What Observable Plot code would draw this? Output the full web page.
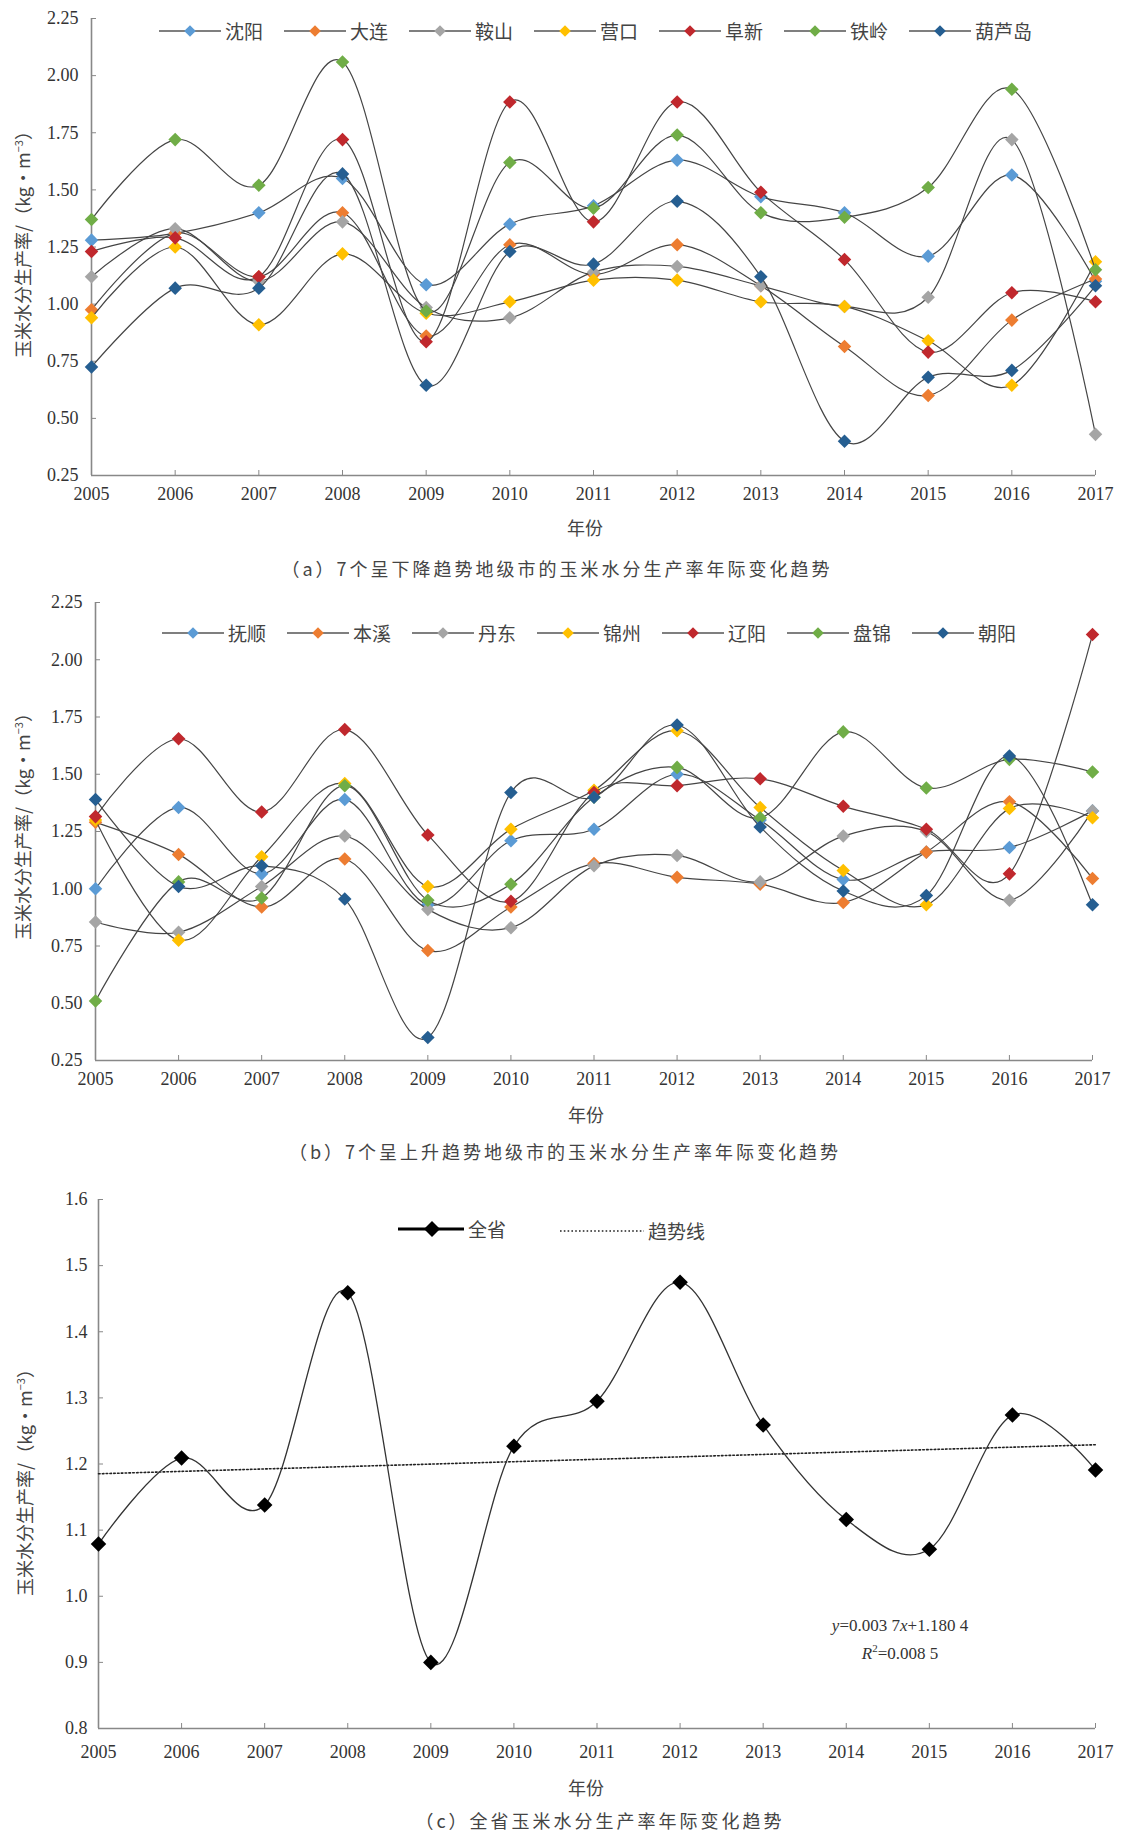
<!DOCTYPE html>
<html><head><meta charset="utf-8">
<script src="https://cdn.jsdelivr.net/npm/d3@7"></script>
<script src="https://cdn.jsdelivr.net/npm/@observablehq/plot@0.6"></script>
<style>
body{margin:0;background:#fff;}
#root{position:relative;width:1121px;height:1835px;overflow:hidden;background:#fff;font-family:"Noto Sans CJK SC","Noto Sans",sans-serif;color:#333;}
.panel{position:absolute;left:0;}
.ytitle{position:absolute;transform:translate(-50%,-50%) rotate(-90deg);font-size:18px;white-space:nowrap;color:#444;}
.cap{position:absolute;transform:translate(-50%,-50%);font-size:18px;letter-spacing:3px;white-space:nowrap;color:#444;}
.xt{position:absolute;transform:translate(-50%,-50%);font-size:18px;white-space:nowrap;color:#444;}
.leg{position:absolute;display:flex;align-items:center;white-space:nowrap;font-size:19px;color:#444;}
.leg span{margin-left:4px;}
.eq{position:absolute;transform:translate(-50%,-50%);font-family:"Liberation Serif",serif;font-size:17px;white-space:nowrap;color:#333;}
</style></head>
<body><div id="root"></div>
<script>
// ---------- data ----------
const years = [2005,2006,2007,2008,2009,2010,2011,2012,2013,2014,2015,2016,2017];
const yTicksAB = [0.25,0.50,0.75,1.00,1.25,1.50,1.75,2.00,2.25];
const yTicksC = [0.8,0.9,1.0,1.1,1.2,1.3,1.4,1.5,1.6];

// (a) 7 cities with declining trend
const citiesA = ["沈阳","大连","鞍山","营口","阜新","铁岭","葫芦岛"];
const shenyang = [1.28,1.31,1.40,1.55,1.085,1.35,1.43,1.63,1.47,1.40,1.21,1.565,1.10];
const dalian   = [0.975,1.31,1.12,1.40,0.86,1.26,1.13,1.26,1.08,0.815,0.60,0.93,1.11];
const anshan   = [1.12,1.33,1.10,1.36,0.985,0.94,1.14,1.165,1.08,0.99,1.03,1.72,0.43];
const yingkou  = [0.94,1.25,0.91,1.22,0.96,1.01,1.105,1.105,1.01,0.99,0.84,0.645,1.185];
const fuxin    = [1.23,1.29,1.12,1.72,0.835,1.885,1.36,1.885,1.49,1.195,0.79,1.05,1.01];
const tieling  = [1.37,1.72,1.52,2.06,0.97,1.62,1.42,1.74,1.40,1.38,1.51,1.94,1.15];
const huludao  = [0.725,1.07,1.07,1.57,0.645,1.23,1.175,1.45,1.12,0.40,0.68,0.71,1.08];

// (b) 7 cities with rising trend
const citiesB = ["抚顺","本溪","丹东","锦州","辽阳","盘锦","朝阳"];
const fushun   = [1.00,1.355,1.065,1.39,0.93,1.21,1.26,1.50,1.30,1.04,1.16,1.18,1.34];
const benxi    = [1.29,1.15,0.92,1.13,0.73,0.92,1.11,1.05,1.02,0.94,1.16,1.38,1.045];
const dandong  = [0.855,0.81,1.01,1.23,0.91,0.83,1.10,1.145,1.03,1.23,1.25,0.95,1.34];
const jinzhou  = [1.30,0.775,1.14,1.46,1.01,1.26,1.43,1.69,1.355,1.08,0.93,1.35,1.31];
const liaoyang = [1.315,1.655,1.335,1.695,1.235,0.945,1.42,1.45,1.48,1.36,1.26,1.065,2.11];
const panjin   = [0.51,1.03,0.96,1.45,0.95,1.02,1.40,1.53,1.31,1.685,1.44,1.565,1.51];
const chaoyang = [1.39,1.01,1.10,0.955,0.35,1.42,1.40,1.715,1.27,0.99,0.97,1.58,0.93];

// (c) whole province
const province = [1.079,1.209,1.138,1.459,0.90,1.227,1.295,1.475,1.259,1.116,1.071,1.274,1.191];

const palette = ["#5B9BD5","#ED7D31","#A5A5A5","#FFC000","#C0282D","#70AD47","#255E91"];

// ---------- helpers ----------
const root = document.getElementById("root");
function add(html, cls, x, y, extra) {
  const d = document.createElement("div");
  d.className = cls; d.innerHTML = html;
  d.style.left = x + "px"; d.style.top = y + "px";
  if (extra) Object.assign(d.style, extra);
  root.appendChild(d); return d;
}
function longTable(names, series) {
  const rows = [];
  names.forEach((n, i) => series[i].forEach((v, j) => rows.push({city: n, year: years[j], value: v})));
  return rows;
}
function diamond(cx, cy, h, fill) {
  return `<polygon points="${cx},${cy-h} ${cx+h},${cy} ${cx},${cy+h} ${cx-h},${cy}" fill="${fill}"/>`;
}
function legendRow(names, colors, x0, step, y) {
  names.forEach((n, i) => {
    const svg = `<svg width="62" height="16">` +
      `<line x1="0" y1="8" x2="62" y2="8" stroke="#555" stroke-width="1.3"/>` +
      diamond(31, 8, 5.8, colors[i]) + `</svg>`;
    add(svg + `<span>${n}</span>`, "leg", x0 + i * step, y - 12);
  });
}

function cityPanel(names, series, opts) {
  const {top, height, mL, mR, mT, mB, yDom, yTicks, fmt, xPad, yPad} = opts;
  const table = longTable(names, series);
  const pw = 1121 - mL - mR, ph = height - mT - mB;
  const tx = (years[12] - years[0]) * 5 / pw, ty = (yDom[1] - yDom[0]) * 5 / ph;
  const marks = [
    Plot.axisX(years, {tickSize: 0, tickPadding: xPad, tickFormat: d => String(d), label: null, fontSize: 18}),
    Plot.axisY(yTicks, {tickSize: 0, tickPadding: yPad, tickFormat: d3.format(fmt), label: null, fontSize: 18}),
    Plot.ruleX(years.slice(1), {x: d => d, y1: yDom[0], y2: yDom[0] + ty, stroke: "#888", strokeWidth: 1}),
    Plot.ruleY(yTicks.slice(1), {y: d => d, x1: years[0], x2: years[0] + tx, stroke: "#888", strokeWidth: 1}),
    Plot.ruleX([years[0]], {stroke: "#888", strokeWidth: 1.6}),
    Plot.ruleY([yDom[0]], {stroke: "#888", strokeWidth: 1.6})
  ];
  names.forEach((n, i) => {
    const rows = table.filter(r => r.city === n);
    marks.push(Plot.line(rows, {x: "year", y: "value", curve: "cardinal", tension: 0, stroke: "#454545", strokeWidth: 1.2}));
    marks.push(Plot.dot(rows, {x: "year", y: "value", symbol: "diamond2", r: 6.1, fill: palette[i], stroke: "none"}));
  });
  const chart = Plot.plot({
    width: 1121, height, marginLeft: mL, marginRight: mR, marginTop: mT, marginBottom: mB,
    x: {domain: [years[0], years[12]]},
    y: {domain: yDom},
    style: {fontFamily: "'Liberation Serif', serif", fontSize: "18px", color: "#333", background: "transparent", overflow: "visible"},
    marks
  });
  const wrap = document.createElement("div");
  wrap.className = "panel"; wrap.style.top = top + "px";
  wrap.appendChild(chart); root.appendChild(wrap);
}

// ---------- panel (a) ----------
cityPanel(citiesA, [shenyang, dalian, anshan, yingkou, fuxin, tieling, huludao], {
  top: 0, height: 505, mL: 91, mR: 26, mT: 18, mB: 30, yDom: [0.25, 2.25], yTicks: yTicksAB, fmt: ".2f", xPad: 12, yPad: 13
});
legendRow(citiesA, palette, 159, 125, 29);
add("玉米水分生产率/（kg·m<sup style='font-size:11px'>−3</sup>）", "ytitle", 22, 240);
add("年份", "xt", 585, 527);
add("（a）7个呈下降趋势地级市的玉米水分生产率年际变化趋势", "cap", 557, 568);

// ---------- panel (b) ----------
cityPanel(citiesB, [fushun, benxi, dandong, jinzhou, liaoyang, panjin, chaoyang], {
  top: 585, height: 505, mL: 95, mR: 29, mT: 17, mB: 30, yDom: [0.25, 2.25], yTicks: yTicksAB, fmt: ".2f", xPad: 12, yPad: 13
});
legendRow(citiesB, palette, 162, 125, 631);
add("玉米水分生产率/（kg·m<sup style='font-size:11px'>−3</sup>）", "ytitle", 22, 822);
add("年份", "xt", 586, 1114);
add("（b）7个呈上升趋势地级市的玉米水分生产率年际变化趋势", "cap", 565, 1151);

// ---------- panel (c) ----------
(function () {
  const rows = years.map((y, i) => ({year: y, value: province[i]}));
  const top = 1170, height = 590, mL = 98, mR = 26, mT = 29, mB = 32;
  const yDom = [0.8, 1.6];
  const pw = 1121 - mL - mR, ph = height - mT - mB;
  const tx = 12 * 5 / pw, ty = (yDom[1] - yDom[0]) * 5 / ph;
  const chart = Plot.plot({
    width: 1121, height, marginLeft: mL, marginRight: mR, marginTop: mT, marginBottom: mB,
    x: {domain: [years[0], years[12]]},
    y: {domain: yDom},
    style: {fontFamily: "'Liberation Serif', serif", fontSize: "18px", color: "#333", background: "transparent", overflow: "visible"},
    marks: [
      Plot.axisX(years, {tickSize: 0, tickPadding: 17, tickFormat: d => String(d), label: null, fontSize: 18}),
      Plot.axisY(yTicksC, {tickSize: 0, tickPadding: 11, tickFormat: d3.format(".1f"), label: null, fontSize: 18}),
      Plot.ruleX(years.slice(1), {x: d => d, y1: yDom[0], y2: yDom[0] + ty, stroke: "#888"}),
      Plot.ruleY(yTicksC.slice(1), {y: d => d, x1: years[0], x2: years[0] + tx, stroke: "#888"}),
      Plot.ruleX([years[0]], {stroke: "#888", strokeWidth: 1.6}),
      Plot.ruleY([yDom[0]], {stroke: "#888", strokeWidth: 1.6}),
      Plot.linearRegressionY(rows, {x: "year", y: "value", ci: 0, stroke: "#222", strokeWidth: 1.6, strokeDasharray: "1.6,2.2"}),
      Plot.line(rows, {x: "year", y: "value", curve: "cardinal", tension: 0, stroke: "#333", strokeWidth: 1.3}),
      Plot.dot(rows, {x: "year", y: "value", symbol: "diamond2", r: 7, fill: "#000"})
    ]
  });
  const wrap = document.createElement("div");
  wrap.className = "panel"; wrap.style.top = top + "px";
  wrap.appendChild(chart); root.appendChild(wrap);

  add(`<svg width="66" height="18"><line x1="0" y1="9" x2="66" y2="9" stroke="#000" stroke-width="3"/>${diamond(34, 9, 8, "#000")}</svg><span>全省</span>`, "leg", 398, 1215);
  add(`<svg width="84" height="18"><line x1="0" y1="9" x2="84" y2="9" stroke="#222" stroke-width="1.5" stroke-dasharray="1.6,2.2"/></svg><span>趋势线</span>`, "leg", 560, 1217);
  add("<i>y</i>=0.003 7<i>x</i>+1.180 4", "eq", 900, 1626);
  add("<i>R</i><sup style='font-size:11px'>2</sup>=0.008 5", "eq", 900, 1653);
  add("玉米水分生产率/（kg·m<sup style='font-size:11px'>−3</sup>）", "ytitle", 24, 1478);
  add("年份", "xt", 586, 1787);
  add("（c）全省玉米水分生产率年际变化趋势", "cap", 600, 1820);
})();
</script></body></html>
